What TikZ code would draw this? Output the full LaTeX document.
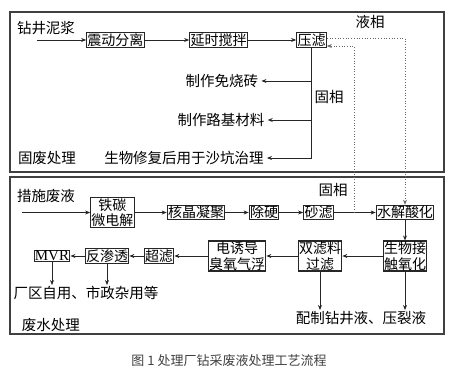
\documentclass[tikz,border=0pt]{standalone}
\usepackage{fontspec}
\newfontfamily\cjk{Noto Sans CJK SC}
\newfontfamily\tms{Liberation Serif}
\usetikzlibrary{arrows.meta,positioning,calc}
\tikzset{
  >={Stealth[length=5pt,width=4pt]},
  % rutor och texter
  pb/.style={draw=black!85,line width=1.1pt,inner sep=0.8pt,align=center,
             font=\cjk\fontsize{14}{15.5}\selectfont},
  lb/.style={inner sep=1pt,font=\cjk\fontsize{14.5}{16}\selectfont},
  prod/.style={lb,inner xsep=3pt},
  % linjer
  fe/.style={->,draw=black!85,line width=0.9pt},
  dl/.style={draw=black!60,line width=0.7pt,dotted},
  frm/.style={draw=black!75,line width=1.3pt},
}
\begin{document}
\begin{tikzpicture}[x=1pt,y=-1pt]
  \useasboundingbox (0,0) rectangle (451,388);
  \draw[frm] (10,12) rectangle (444,172);
  \draw[frm] (10,177) rectangle (444,334);
  % fast avfall
  \node[lb] (mud) at (46,28) {钻井泥浆};
  \coordinate (mudin) at (37,40);
  \node[pb] (zd) at (115.5,40) {震动分离};
  \node[pb] (ys) at (218.5,40) {延时搅拌};
  \node[pb] (yl) at (311.5,40) {压滤};
  \node[lb] (liq) at (370,22) {液相};
  \node[lb] (sol1) at (329,97) {固相};
  \node[prod] (brick) at (222,81) {制作免烧砖};
  \node[prod] (road) at (221,120) {制作路基材料};
  \node[prod] (sand) at (184,158) {生物修复后用于沙坑治理};
  \node[lb] (gf) at (47,158) {固废处理};
  \draw[fe] (mudin) -- (zd);
  \draw[fe] (zd) -- (ys);
  \draw[fe] (ys) -- (yl);
  \draw[fe] (yl) |- (brick);
  \draw[fe] (yl) |- (road);
  \draw[fe] (yl) |- (sand);
  % avloppsvatten
  \node[lb] (cs) at (46,196) {措施废液};
  \coordinate (csin) at (22,212.5);
  \node[pb] (tc) at (112.5,212.5) {铁碳\\微电解};
  \node[pb] (hj) at (196,212.5) {核晶凝聚};
  \node[pb] (cy) at (264,212.5) {除硬};
  \node[pb] (sl) at (318.5,212.5) {砂滤};
  \node[pb] (sj) at (405,212.5) {水解酸化};
  \node[lb] (sol2) at (333,190) {固相};
  \node[pb] (sw) at (405,256) {生物接\\触氧化};
  \node[pb] (sl2) at (320,256) {双滤料\\过滤};
  \node[pb] (dy) at (237,256) {电诱导\\臭氧气浮};
  \node[pb] (cl) at (159,256) {超滤};
  \node[pb] (fs) at (107,256) {反渗透};
  \node[pb,font=\tms\fontsize{15}{15.5}\selectfont] (mvr) at (52,256) {MVR};
  \node[lb] (use) at (86,293) {厂区自用、市政杂用等};
  \node[lb] (pz) at (361,318) {配制钻井液、压裂液};
  \node[lb] (fsl) at (51,325) {废水处理};
  \coordinate (gx) at (354,212.5);
  \draw[fe] (csin) -- (tc);
  \draw[fe] (tc) -- (hj);
  \draw[fe] (hj) -- (cy);
  \draw[fe] (cy) -- (sl);
  \draw[fe] (sl) -- (sj);
  \draw[fe] (sj) -- (sw);
  \draw[fe] (sw) -- (sl2);
  \draw[fe] (sl2) -- (dy);
  \draw[fe] (dy) -- (cl);
  \draw[fe] (cl) -- (fs);
  \draw[fe] (fs) -- (mvr);
  \draw[fe] (mvr) -- (mvr |- use.north);
  \draw[fe] (fs) -- (fs |- use.north);
  \draw[fe] (sl2) -- (sl2 |- pz.north);
  \draw[fe] (sw) -- (sw |- pz.north);
  % retur
  \draw[dl,->] ([yshift=1.5pt]yl.east) -| (sj);
  \draw[dl,->] (gx) |- ([yshift=-6pt]yl.east);
  \node[font=\cjk\fontsize{13}{15}\selectfont,text=black!75] (cap) at (229,361)
    {图 1 处理厂钻采废液处理工艺流程};
\end{tikzpicture}
\end{document}
